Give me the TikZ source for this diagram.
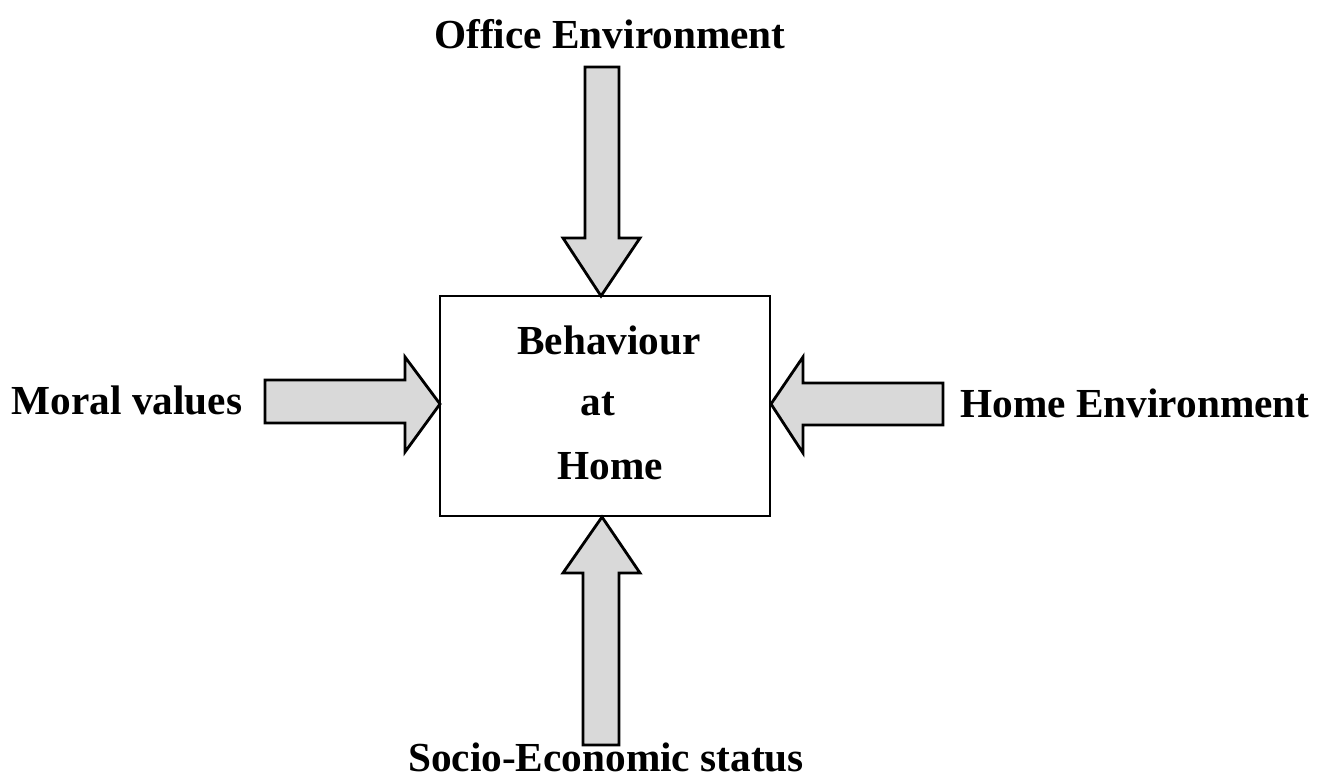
\documentclass[tikz,border=0pt]{standalone}
\usepackage{fontspec}
\setmainfont{Liberation Serif}
\tikzset{
  lbl/.style={font=\fontsize{23.5}{26}\selectfont\bfseries, inner sep=0pt},
  blockarrow/.style={draw=black, line width=1.6pt, fill=gray!30, line join=miter},
  mainbox/.style={draw=black, line width=1.3pt, minimum width=6.6cm, minimum height=4.4cm, inner sep=0pt}
}
\begin{document}
\begin{tikzpicture}[x=0.02cm,y=-0.02cm]
\useasboundingbox (0,0) rectangle (1323,783);
% labels
\node[lbl] (office) at (610,34) {Office Environment};
\node[lbl] (moral) at (127,400) {Moral values};
\node[lbl] (homeenv) at (1135,403) {Home Environment};
\node[lbl, anchor=base] (socio) at (606,772) {Socio-Economic status};
% central box
\node[mainbox] (box) at (605,406) {};
\node[lbl] (t1) at (609,340) {Behaviour};
\node[lbl] (t2) at (598,404) {at};
\node[lbl] (t3) at (610,466) {Home};
% block arrows
\draw[blockarrow] (585,67) -- (619,67) -- (619,238) -- (640,238) -- (601,296) -- (563,238) -- (585,238) -- cycle;
\draw[blockarrow] (265,380) -- (405,380) -- (405,357) -- (440,404) -- (405,452) -- (405,423) -- (265,423) -- cycle;
\draw[blockarrow] (943,383) -- (803,383) -- (803,357) -- (771,404) -- (803,453) -- (803,425) -- (943,425) -- cycle;
\draw[blockarrow] (602,517) -- (640,573) -- (619,573) -- (619,745) -- (583,745) -- (583,573) -- (563,573) -- cycle;
\end{tikzpicture}
\end{document}
